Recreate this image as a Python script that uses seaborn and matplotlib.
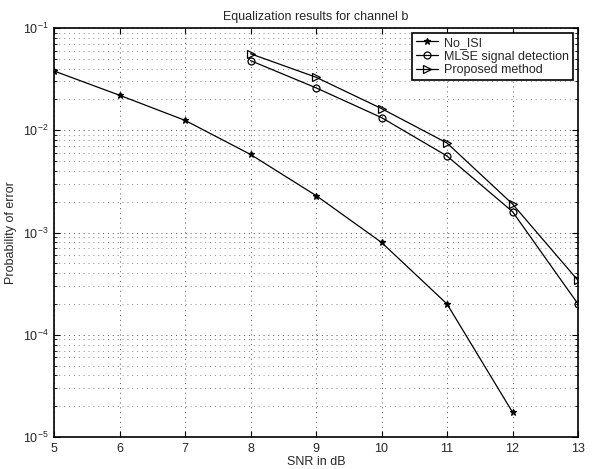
import numpy as np
import pandas as pd
import seaborn as sns
import matplotlib
matplotlib.use("Agg")
import matplotlib.pyplot as plt
from matplotlib.ticker import LogLocator, NullFormatter

snr_no_isi = [5, 6, 7, 8, 9, 10, 11, 12]
pe_no_isi = [0.038, 0.022, 0.0125, 0.0058, 0.0023, 0.0008, 0.0002, 0.0000175]

snr_mlse = [8, 9, 10, 11, 12, 13]
pe_mlse = [0.048, 0.026, 0.0133, 0.0056, 0.0016, 0.0002]

snr_proposed = [8, 9, 10, 11, 12, 13]
pe_proposed = [0.056, 0.033, 0.0163, 0.0075, 0.0019, 0.00034]

series = [
    ("No_ISI", snr_no_isi, pe_no_isi, "*", "black", 5),
    ("MLSE signal detection", snr_mlse, pe_mlse, "o", "none", 5),
    ("Proposed method", snr_proposed, pe_proposed, ">", "none", 5.5),
]

sns.set_style("ticks")
plt.rcParams["font.family"] = ["Liberation Sans", "DejaVu Sans"]
plt.rcParams["mathtext.fontset"] = "custom"
plt.rcParams["mathtext.rm"] = "Liberation Sans"
plt.rcParams["mathtext.it"] = "Liberation Sans"

fig = plt.figure(figsize=(5.94, 4.69), dpi=100)
ax = fig.add_axes([54 / 594, 1 - 437 / 469, (578 - 54) / 594, (437 - 28) / 469])

for name, x, y, marker, face, size in series:
    df = pd.DataFrame({"snr": x, "pe": y})
    sns.lineplot(data=df, x="snr", y="pe", ax=ax, color="black", linewidth=0.9,
                 marker=marker, markersize=size, markerfacecolor=face,
                 markeredgecolor="black", markeredgewidth=0.9, label=name)

ax.set_yscale("log")
ax.set_xlim(5, 13)
ax.set_ylim(1e-5, 1e-1)
ax.set_xticks(range(5, 14))
ax.yaxis.set_major_locator(LogLocator(base=10, numticks=10))
ax.yaxis.set_minor_locator(LogLocator(base=10, subs=np.arange(2, 10), numticks=10))
ax.yaxis.set_minor_formatter(NullFormatter())

ax.grid(True, which="major", linestyle=(0, (1, 4)), color="#555555", linewidth=0.7)
ax.grid(True, which="minor", axis="y", linestyle=(0, (1, 4)), color="#888888", linewidth=0.7)

ax.tick_params(which="both", direction="in", top=True, right=True, labelsize=9, color="black")
ax.tick_params(which="major", length=4, pad=4)
ax.tick_params(which="minor", length=2)
for sp in ax.spines.values():
    sp.set_linewidth(1.2)
    sp.set_color("black")

ax.set_xlabel("SNR in dB", fontsize=9, labelpad=1)
ax.set_ylabel("Probability of error", fontsize=9, labelpad=4)
ax.set_title("Equalization results for channel b", fontsize=9, pad=6)

leg = ax.legend(loc="upper right", bbox_to_anchor=(573 / 594, 1 - 33 / 469),
                bbox_transform=fig.transFigure, fontsize=9, frameon=True, fancybox=False,
                edgecolor="black", borderpad=0.3, labelspacing=0.15, handlelength=1.8,
                handletextpad=0.5, borderaxespad=0)
leg.get_frame().set_linewidth(1.2)
leg.get_frame().set_alpha(1)

fig.savefig("out.png", dpi=100)
